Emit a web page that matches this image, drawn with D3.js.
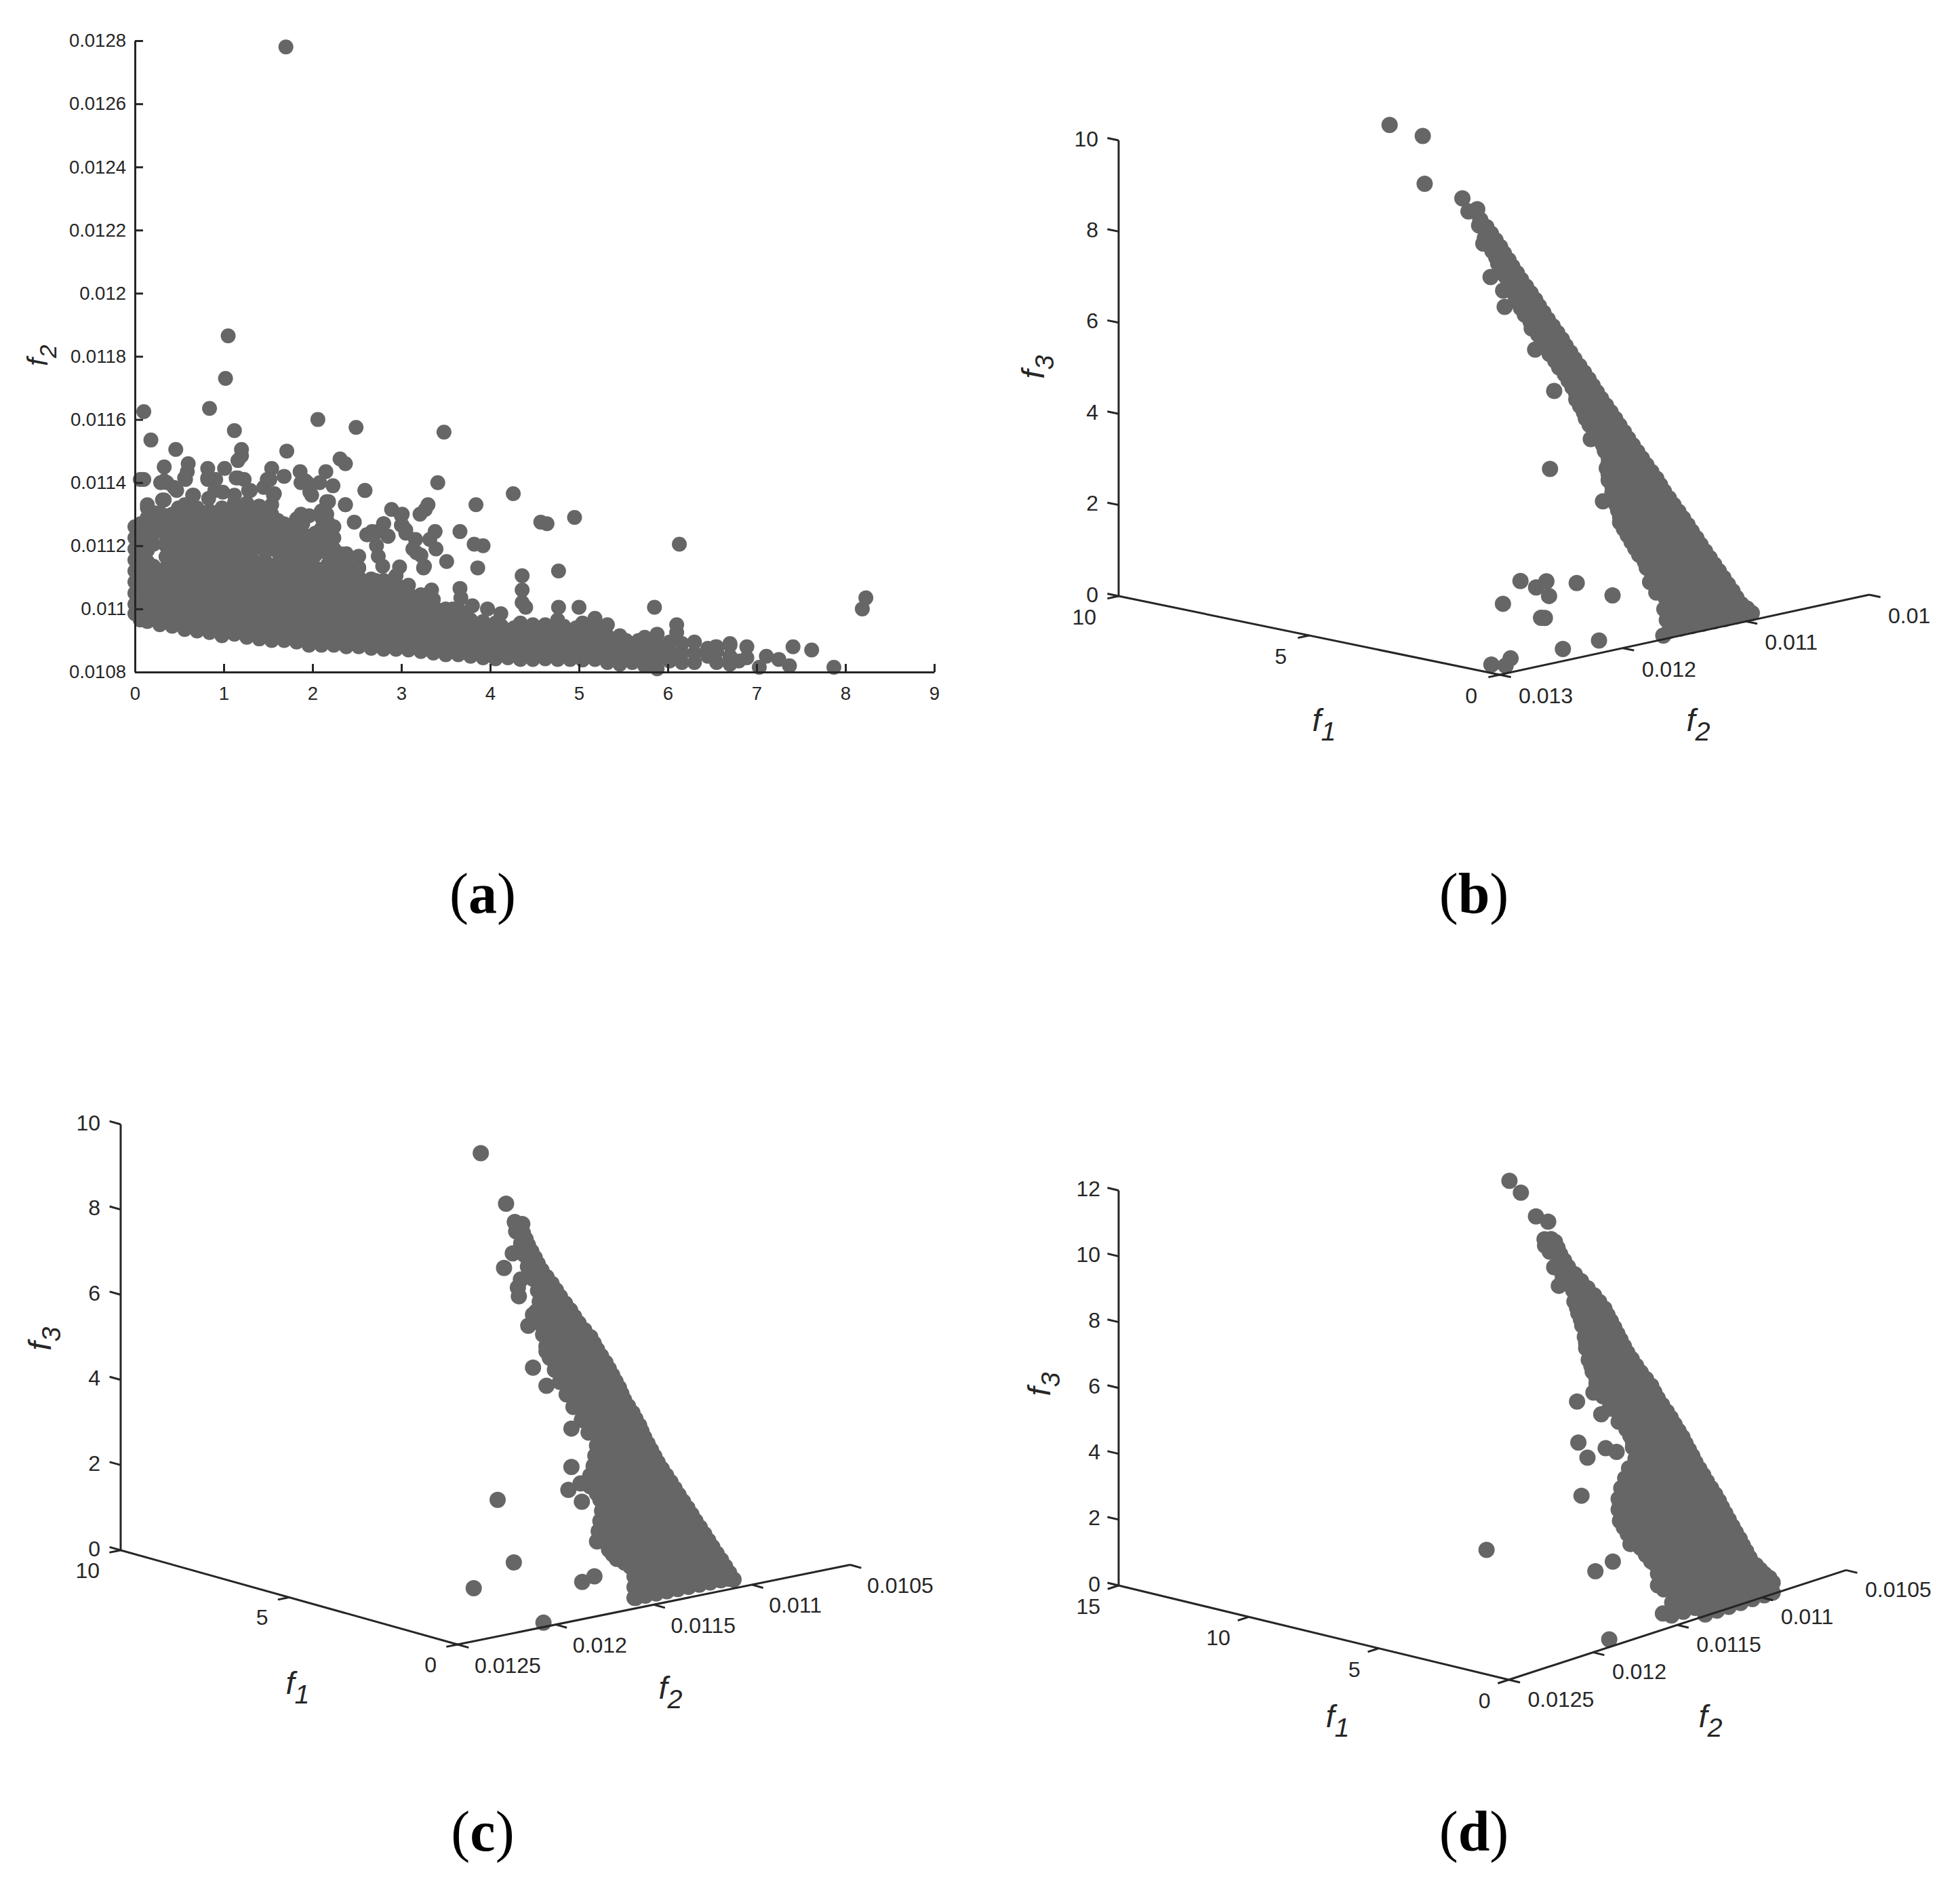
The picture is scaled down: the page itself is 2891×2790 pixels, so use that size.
<!DOCTYPE html>
<html><head><meta charset="utf-8">
<script src="https://cdn.jsdelivr.net/npm/d3@7"></script>
<style>
html,body{margin:0;padding:0;background:#fff}
svg{display:block}
text{font-family:"Liberation Sans",Arial,sans-serif;fill:#262626}
.cap{font-family:"Liberation Serif","Times New Roman",serif;fill:#000}
</style></head><body><div id="c"></div>
<script>
// ---- values. f2 values are written in units of 0.0001 ----
const aF1Ticks=[0,1,2,3,4,5,6,7,8,9];
const aF2Ticks=[108,110,112,114,116,118,120,122,124,126,128];
// panel (a): each row is [f1, f2, f2, ...]
const aColumns=[
[0.00,109.85,110.15,110.5,110.85,111.2,111.55,111.9,112.25,112.6],
[0.06,109.65,110,110.3,110.65,111,111.35,111.7,112.05,112.4,112.7],
[0.14,109.6,109.9,110.2,110.55,110.9,111.2,111.5,111.85,112.2,112.55,112.9,113.2],
[0.28,109.5,109.8,110.15,110.5,110.85,111.15,112.55,112.85,113.05],
[0.42,109.45,109.8,110.1,110.45,110.8,111.1,111.45,111.75,112.1,112.45,112.8,113],
[0.56,109.35,109.7,110.05,110.4,110.7,111.05,111.4,111.7,112,112.35,112.7,113.05,113.3],
[0.70,109.3,109.65,110,110.3,110.65,111,111.3,111.65,112,112.3,112.65,112.95,113.2],
[0.84,109.25,109.6,109.9,110.25,110.6,110.9,111.25,111.6,111.95,112.2,112.6,112.9,113.1],
[0.98,109.15,109.5,109.85,110.2,110.5,110.85,111.2,111.5,111.85,112.2,112.55,112.9,113.2],
[1.12,109.2,109.55,109.85,110.2,110.55,110.85,111.15,111.45,111.8,112.15,112.5,112.85,113.35,113.6],
[1.26,109.1,109.45,109.8,110.1,110.45,110.8,111.1,111.4,111.7,112.05,112.4,112.75,113.1,113.35],
[1.40,109.05,109.4,109.75,110.1,110.4,110.75,111.05,111.35,112.3,112.6,112.95,113.25],
[1.54,109,109.35,109.7,110,110.35,110.7,111,111.3,112,112.25,112.6,113,113.3],
[1.68,109,109.3,109.65,110,110.3,110.6,110.95,111.25,111.6,111.95,112.3,112.7],
[1.82,108.95,109.3,109.6,109.95,110.25,110.6,110.9,111.2,111.6,111.9,112.2,112.5,112.85],
[1.96,108.85,109.2,109.55,109.9,110.2,110.55,110.85,111.2,111.55,111.9,112.3,112.95],
[2.10,108.85,109.2,109.5,109.85,110.2,110.5,110.8,111.25,111.9,112.2,112.55,112.9,113.1],
[2.24,108.85,109.15,109.45,109.8,110.1,110.45,110.8,111.15,111.55,111.9,112.25,112.6],
[2.38,108.8,109.1,109.45,109.75,110.1,110.4,110.75,111.1,111.45,111.75],
[2.52,108.8,109.1,109.4,109.7,110.05,110.4,110.7,111,111.3,111.67],
[2.66,108.75,109.05,109.4,109.7,110,110.3,110.65,110.95],
[2.80,108.72,109.05,109.35,109.65,110,110.3,110.55,110.9],
[2.94,108.72,109,109.3,109.6,109.95,110.25,110.55,110.8,111.05],
[3.08,108.7,109,109.3,109.6,109.9,110.2,110.5,110.75],
[3.22,108.65,108.95,109.25,109.55,109.85,110.15,110.45],
[3.36,108.6,108.9,109.2,109.55,109.85,110.1,110.3],
[3.50,108.55,108.85,109.15,109.5,109.8,110],
[3.64,108.55,108.85,109.15,109.45,109.75,110],
[3.78,108.5,108.8,109.1,109.4,109.65],
[3.92,108.45,108.75,109.05,109.35,109.6],
[4.06,108.42,108.7,109,109.3,109.55],
[4.20,108.45,108.75,109,109.3],
[4.34,108.4,108.7,109,109.3,109.55],
[4.48,108.4,108.7,109,109.3,109.5],
[4.62,108.42,108.7,109,109.3,109.5],
[4.76,108.4,108.7,109,109.3,109.65],
[4.90,108.4,108.7,109,109.3],
[5.04,108.38,108.65,108.95,109.25,109.55],
[5.18,108.4,108.7,109,109.3,109.7],
[5.32,108.3,108.6,108.9,109.15,109.5],
[5.46,108.25,108.55,108.85,109.15],
[5.60,108.3,108.6,108.9],
[5.74,108.2,108.5,108.75,109.1],
[5.88,108.1,108.4,108.7,109.2],
[6.02,108.35,108.65,108.95],
[6.10,108.5,109.25,109.5],
[6.16,108.3,108.6,108.9],
[6.30,108.3,108.6,108.95],
[6.45,108.5,108.75],
[6.55,108.3,108.65,108.8],
[6.70,108.25,108.5,108.85],
[6.80,108.35],[6.89,108.45,108.8]
];
const aColumnsBetween=[
[.21,109.75,110.05,110.35,110.7,111,111.35,112.05,112.4,112.7,113.05],
[.35,109.65,109.95,110.3,110.65,111,111.3,111.65,112,112.3,112.65,112.95],
[.49,109.6,109.95,110.25,110.6,110.95,111.25,111.6,111.9,112.25,112.6,112.9,113.2],
[.63,109.5,109.85,110.2,110.55,110.85,111.2,111.55,111.85,112.15,112.5,112.85,113.15],
[.77,109.45,109.8,110.15,110.45,110.8,111.15,111.45,111.8,112.15,112.45,112.8,113.05],
[.91,109.4,109.75,110.05,110.4,110.75,111.05,111.4,111.75,112.05,112.4,112.75,113],
[1.05,109.35,109.7,110.05,110.35,110.7,111,111.35,111.65,112,112.35,112.7,113.05],
[1.19,109.3,109.65,110,110.35,110.7,111,111.3,111.6,111.95,112.3,112.65,113],
[1.33,109.25,109.6,109.95,110.25,110.6,110.95,111.25,111.55,111.9,112.2,112.55,112.9,113.2],
[1.47,109.2,109.55,109.9,110.25,110.55,110.9,111.2,111.5,111.8,112.1,112.45,112.8,113.1],
[1.61,109.15,109.5,109.85,110.15,110.5,110.85,111.15,111.45,111.8,112.1,112.45,112.8],
[1.75,109.15,109.45,109.8,110.15,110.45,110.75,111.1,111.4,111.75,112.1,112.45],
[1.89,109.1,109.45,109.75,110.1,110.4,110.75,111.05,111.4,111.75,112.05,112.35,112.7],
[2.03,109,109.35,109.7,110.05,110.35,110.7,111,111.3,111.7,112.05,112.4],
[2.17,109,109.35,109.65,110,110.35,110.65,111,111.4,111.75,112.05,112.4,112.75],
[2.31,108.95,109.3,109.6,109.95,110.25,110.6,110.95,111.3],
[2.45,108.95,109.25,109.55,109.9,110.25,110.55,110.9,111.25],
[2.59,108.9,109.2,109.55,109.85,110.2,110.55,110.85],
[2.73,108.9,109.2,109.5,109.85,110.15,110.45,110.75],
[2.87,108.85,109.15,109.45,109.8,110.1,110.4,110.7],
[3.01,108.85,109.15,109.45,109.75,110.05,110.35,110.65],
[3.15,108.85,109.15,109.45,109.75,110.05,110.35],
[3.29,108.8,109.1,109.4,109.7,110,110.3],
[3.43,108.75,109.05,109.35,109.7,109.95],
[3.57,108.7,109,109.3,109.6,109.9],
[3.71,108.7,109,109.3,109.6,109.85],
[3.85,108.65,108.95,109.25,109.5],
[3.99,108.6,108.9,109.2,109.45],
[4.13,108.6,108.85,109.15,109.45],
[4.27,108.6,108.85,109.15,109.4],
[4.41,108.55,108.85,109.15,109.4],
[4.55,108.55,108.85,109.15,109.4],
[4.69,108.55,108.85,109.15,109.4],
[4.83,108.55,108.85,109.15,109.45],
[4.97,108.55,108.85,109.15,109.4],
[5.11,108.55,108.85,109.1,109.4],
[5.25,108.5,108.8,109.1,109.35],
[5.39,108.4,108.7,109],
[5.53,108.4,108.7,109],
[5.67,108.45,108.75,109],
[5.81,108.3,108.6,108.9],
[5.95,108.5,108.8]
];
// panel (a): points that stand apart, as f1,f2 pairs
const aApart=[1.70,127.8, 1.05,118.65, 1.02,117.3, .10,116.25, .84,116.35, 2.06,116, 2.49,115.75, 3.48,115.6, 1.12,115.65, .18,115.35, .46,115.05, 1.20,115.05, 1.20,114.85, 1.16,114.7, 1.71,115, 2.31,114.75, 2.37,114.6, 1.54,114.45, .82,114.45, 1.01,114.45, .33,114.5, .6,114.6, .59,114.35, .57,114.1, 1.86,114.35, 2.15,114.35, .06,114.1, .1,114.1, 1.49,114.1, 1.68,114.2, .82,114.1, .91,114.1, 1.14,114.15, 1.23,114.1, .29,114, .36,114, 1.87,114, 1.92,114.05, 2.08,114, 2.23,113.9, 2.59,113.75, 3.41,114, 4.26,113.65, .47,113.75, .66,113.6, .99,113.7, 1.28,113.75, 1.45,113.85, 1.56,113.6, 1.97,113.7, .31,113.45, .14,113.3, .83,113.5, 2.37,113.3, 2.18,113.4, 3.84,113.3, 3.3,113.3, 3.27,113.15, 3.21,113, 2.89,113.15, 3.01,113, 4.95,112.9, 4.57,112.75, 4.64,112.7, 2.47,112.75, 2.8,112.7, 3.01,112.65, 3.05,112.5, 2.67,112.45, 2.61,112.35, 2.85,112.3, 3.16,112.2, 3.38,112.45, 3.32,112.2, 3.39,111.9, 3.66,112.45, 3.82,112.05, 3.92,112, 6.13,112.05, 3.13,111.9, 3.22,111.7, 3.51,111.5, 3.26,111.35, 3.86,111.3, 4.77,111.2, 4.36,111.05, 4.36,110.6, 4.36,110.2, 4.4,110.05, 4.77,110.05, 5,110.05, 5.85,110.05, 3.97,110, 4.12,109.85, 8.19,110, 8.23,110.35, 3.66,110.65, 3.34,110.6, 3.67,110.35, 3.8,110.1, 7.03,108.15, 7.11,108.5, 7.25,108.4, 7.37,108.2, 7.41,108.8, 7.62,108.7, 7.87,108.15, 6.7,108.9, 6.54,108.8, 2.72,112, 2.74,111.67, 2.79,111.35, 2.98,111.33, 3.17,111.78, 3.25,111.3, 2.52,111.3, 2.32,111.75, 2.38,111.1, 2.28,111.45, 2.62,112.35, 2.74,112.45, 2.8,112.7, 2.85,112.3, 3,112.95, 3,112.65, 3.05,112.4, 2.37,113.3, 2.59,113.75, 1.87,113, 2.08,113, 2.16,113.4, 2.16,113, 1.99,113.6, 1.94,114, .33,113.45, .65,113.6, .9,113.75, .44,113.85, .33,114.05, .56,114.15, .82,114.15, 1.16,114.15, 1.3,113.75, 1.52,114.1, 1.57,113.65, 1.4,113.25, 1.19,113.1, 3.58,110, 2.93,111, 2.71,110.9];

// panel (b): [f3, f1, f1, ...] at f2 = 0.0108
const bF2Main=108;
const bRows=[
[0,.65,.95,1.25,1.55,1.85,2.15,2.45,2.75,3.0],[.125,.77,1.1,1.4,1.7,2,2.3,2.6,2.9],
[.25,.9,1.2,1.5,1.8,2.1,2.4,2.7,3.1],[.375,1,1.3,1.6,1.9,2.2,2.5,2.8,3.1],
[.5,1.12,1.42,1.72,2.02,2.32,2.62,2.92,3.25],[.625,1.24,1.55,1.85,2.15,2.45,2.75,3.05,3.3],
[.75,1.36,1.66,1.96,2.26,2.56,2.86,3.16,3.45],[.875,1.48,1.8,2.1,2.4,2.7,3,3.3,3.55],
[1,1.6,1.9,2.2,2.5,2.8,3.1,3.4,3.65],[1.125,1.72,2,2.3,2.6,2.9,3.2,3.5,3.75],
[1.25,1.84,2.14,2.44,2.74,3.04,3.34,3.6,3.85],[1.375,1.95,2.25,2.55,2.85,3.15,3.45,3.75,3.95],
[1.5,2.07,2.37,2.67,2.97,3.27,3.57,3.95],[1.625,2.18,2.5,2.8,3.1,3.4,3.7,4],
[1.75,2.3,2.6,2.9,3.2,3.5,3.8,4.05],[1.875,2.42,2.7,3,3.3,3.6,3.9,4.1],
[2,2.55,2.85,3.15,3.45,3.75,4.15],[2.125,2.67,2.95,3.25,3.55,3.85,4.15],
[2.25,2.8,3.1,3.4,3.7,3.95,4.25],[2.375,2.9,3.2,3.5,3.8,4.1,4.25],
[2.5,3.0,3.3,3.6,3.9,4.3],[2.625,3.13,3.45,3.75,4.05,4.25],
[2.75,3.26,3.56,3.86,4.25],[2.875,3.38,3.65,3.95,4.25,4.35],
[3,3.5,3.8,4.1,4.4],[3.125,3.62,3.9,4.2,4.5],
[3.25,3.74,4.04,4.34,4.6],[3.375,3.85,4.15,4.45,4.75],
[3.5,3.97,4.27,4.57,4.85],[3.625,4.08,4.35,4.65,4.9],
[3.75,4.2,4.5,4.8,5.0],[3.875,4.32,4.6,4.9,5.1],
[4,4.45,4.75,5.1],[4.125,4.56,4.85,5.2],
[4.25,4.67,4.97,5.3],[4.375,4.78,5.1,5.4],
[4.5,4.9,5.2,5.55],[4.625,5.02,5.3,5.65],
[4.75,5.15,5.45,5.8],[4.875,5.26,5.55,5.9],
[5,5.38,5.68,6.0],[5.125,5.48,5.8,6.1],
[5.25,5.6,5.9,6.2],[5.375,5.72,6,6.3],
[5.5,5.85,6.15,6.45],[5.625,5.96,6.25,6.55],
[5.75,6.08,6.38,6.65],[5.875,6.18,6.45,6.7],
[6,6.3,6.55,6.8],[6.125,6.42,6.6,6.85],
[6.25,6.55,6.75,6.95],[6.375,6.66,6.85,7.05],
[6.5,6.78,7.15],[6.625,6.88,7.05,7.2],
[6.75,7.0,7.3],[6.875,7.1],
[7,7.22,7.5],[7.125,7.34],
[7.25,7.46,7.65],[7.38,7.62]
];
// panel (b): [f3, f2, f2, ...] at f1 = 0.3 (strip along the f2 axis)
const bF1Strip=.3;
const bStrip=[
[.05,115.3,114.4,113.5,112.6,111.7,110.8,109.9,109.2,108.6],
[.175,114.95,114.05,113.15,112.25,111.35,110.5,109.7,109],
[.3,115.5,114.6,113.7,112.8,111.9,111,110.2,109.5],
[.425,115.1,114.2,113.3,112.4,111.5,110.7,110],
[.55,115.7,114.8,113.9,113,112.1,111.2,110.6],
[.675,115.2,114.3,113.4,112.5,111.6,111],
[.8,115.6,114.7,113.8,112.9,112,111.4],
[.925,115.1,114.2,113.3,112.4,111.8],
[1.05,115.5,114.6,113.7,112.8,112]
];
// panel (b): points apart, as f1,f2,f3
const bApart=[10,108,9.05, 9.13,108,8.96, 9.08,108,7.92, 8.09,108,7.77, 7.93,108,7.51, 7.7,108,7.6, 7.46,108,7.21, 7.54,108,6.87, 5.79,108,2.23, 4.4,108,1.76, 5.68,108,3.96, 4.72,108,3.07, 7.35,108,6.17, 6.98,108,5.58, 7.02,108,5.93, 6.18,108,4.78, 6.27,108,5.23, 1.07,125,1.58, .66,125,1.51, .39,125,1.69, .32,125,1.38, 1.21,120,1.22, .27,120,1.11, .9,115,1, 1.53,125,1, .53,125,.865, .43,125,.88, .28,124,.165, .14,121.5,.23, .23,116,0, .54,129,.07, .49,128,0, .36,128,.18];

// panel (c): [f3, f1, f1, ...] at f2 = 0.011
const cF2Main=110;
const cRows=[
[0,.55,.88,1.2,1.55,1.85,2.2,2.5,2.85,3.2,3.5,3.85,4.2,4.6],[.125,.68,.95,1.3,1.65,1.95,2.3,2.65,2.95,3.3,3.65,3.95,4.35],
[.25,.8,1.1,1.45,1.8,2.1,2.45,2.8,3.1,3.45,3.8,4.1,4.55],[.375,.92,1.2,1.55,1.9,2.2,2.55,2.9,3.2,3.55,3.9,4.3],
[.5,1.05,1.35,1.7,2,2.35,2.7,3,3.35,3.7,4,4.5],[.625,1.18,1.45,1.8,2.1,2.45,2.8,3.1,3.45,3.8,4.2],
[.75,1.3,1.6,1.95,2.3,2.6,2.95,3.25,3.6,3.95,4.45],[.875,1.42,1.75,2.05,2.4,2.7,3.05,3.4,3.75,4.1,4.4],
[1,1.55,1.85,2.2,2.5,2.85,3.2,3.5,3.85,4.2,4.5],[1.125,1.68,2,2.3,2.65,3,3.3,3.65,4,4.3,4.6],
[1.25,1.8,2.1,2.45,2.8,3.1,3.45,3.8,4.1,4.45,4.8],[1.375,1.92,2.2,2.55,2.85,3.2,3.55,3.9,4.2,4.55],
[1.5,2.05,2.35,2.7,3,3.35,3.7,4.05,4.35,4.8],[1.625,2.18,2.45,2.8,3.15,3.5,3.8,4.15,4.5],
[1.75,2.3,2.6,2.95,3.3,3.6,3.95,4.3,4.7],[1.875,2.42,2.7,3.05,3.4,3.7,4.05,4.4],
[2,2.55,2.85,3.2,3.5,3.85,4.2,4.65],[2.125,2.68,2.95,3.3,3.65,4,4.35],
[2.25,2.8,3.1,3.45,3.8,4.15,4.6],[2.375,2.9,3.15,3.5,3.85,4.2,4.55],
[2.5,3,3.35,3.7,4,4.35,4.85],[2.625,3.1,3.35,3.7,4.05,4.4,4.75],
[2.75,3.2,3.55,3.9,4.2,4.55,5.05],[2.875,3.28,3.55,3.9,4.25,4.6,4.95],
[3,3.35,3.7,4.05,4.35,4.7,5.3],[3.125,3.46,3.75,4.1,4.45,4.8,5.15],
[3.25,3.55,3.9,4.25,4.55,4.9,5.5],[3.375,3.68,4,4.3,4.65,5,5.35],
[3.5,3.8,4.1,4.45,4.8,5.1,5.7],[3.625,3.88,4.2,4.55,4.9,5.25,5.55],
[3.75,3.95,4.3,4.65,5,5.35,5.85],[3.875,4.05,4.4,4.75,5.1,5.45,5.75],
[4,4.15,4.5,4.85,5.2,5.6,6],[4.125,4.25,4.6,4.95,5.3,5.65,5.9],
[4.25,4.35,4.7,5.05,5.4,5.75,6.1],[4.375,4.48,4.85,5.2,5.55,5.9],
[4.5,4.6,4.95,5.3,5.65,6.2],[4.625,4.7,5.05,5.4,5.75,6.1],
[4.75,4.8,5.15,5.5,5.85,6.3],[4.875,4.98,5.3,5.65,6],
[5,5.15,5.5,5.85,6.4],[5.125,5.28,5.6,5.95,6.2],
[5.25,5.4,5.75,6.3],[5.375,5.55,5.9,6.15],
[5.5,5.7,6,6.35],[5.625,5.82,6.15],
[5.75,5.95,6.5],[5.875,6.1],
[6,6.25,6.65],[6.125,6.36],
[6.25,6.45,6.75],[6.375,6.55],
[6.5,6.65,6.85],[6.625,6.72],
[6.75,6.8,7]
];
// panel (c): [f3, f2, f2, ...] at f1 = 0.4
const cF1Strip=.4;
const cStrip=[
[.1,115.3,114.75,114.2,113.65,113.1,112.55,112,111.45,110.9,110.5],
[.225,115,114.45,113.9,113.35,112.8,112.25,111.7,111.15,110.7],
[.35,115.3,114.75,114.2,113.65,113.1,112.55,112,111.45,110.9],
[.475,115,114.45,113.9,113.35,112.8,112.25,111.7,111.1],
[.6,115.3,114.75,114.2,113.65,113.1,112.55,112,111.6,111.2],
[.725,115.1,114.55,114,113.45,112.9,112.35,111.8,111.35],
[.85,115.5,114.9,114.35,113.8,113.25,112.7,112.15,111.6],
[.975,115.8,115.2,114.65,114.1,113.55,113,112.4,111.8],
[1.1,116.2,115.6,115,114.45,113.9,113.35,112.8,112],
[1.225,116.4,115.8,115.2,114.65,114.1,113.55,113,112.4],
[1.35,116.6,116,115.4,114.85,114.3,113.75,113.2,112.6]
];
const cApart=[8.05,110,8.35, 7.3,110,7.33, 7.04,110,6.96, 6.82,110,6.96, 7.1,110,6.21, 7.36,110,5.81, 6.86,110,5.65, 6.95,110,5.44, 6.92,110,5.24, 6.64,110,4.61, 6.5,110,4.9, 6.19,110,4.87, 6.5,110,3.66, 6.1,110,3.32, 6.1,110,4.13, 5.36,110,2.48, 5.36,110,1.58, 5.45,110,1.02, 5.09,110,1.25, 5.05,110,.83, 7.55,110,.32, 2.41,118,.74, 1.27,122,.76, .19,120.3,.03, .38,118,.73, .6,117,.72, .54,115,.04];

// panel (d): [f3, f1, f1, ...] at f2 = 0.0109
const dF2Main=109;
const dRows=[
[0,.5,.95,1.4,1.85,2.3,2.75,3.2,3.65,4.1,4.55,4.9],[.16,.62,1.1,1.55,2,2.45,2.9,3.35,3.8,4.25,4.7,5.1],
[.33,.75,1.2,1.65,2.1,2.55,3,3.45,3.9,4.35,4.8,5.3],[.5,.88,1.4,1.85,2.3,2.75,3.2,3.65,4.1,4.55,5,5.4],
[.66,1,1.45,1.9,2.35,2.8,3.25,3.7,4.15,4.6,5.05,5.5,5.8],[.83,1.12,1.6,2.05,2.5,2.95,3.4,3.85,4.3,4.75,5.2,5.6,5.95],
[1,1.25,1.7,2.15,2.6,3.05,3.5,3.95,4.4,4.85,5.3,5.7,6.1],[1.16,1.38,1.85,2.3,2.75,3.2,3.65,4.1,4.55,5,5.45,5.9],
[1.33,1.5,1.95,2.4,2.85,3.3,3.75,4.2,4.65,5.1,5.55,5.95,6.15],[1.5,1.65,2.15,2.6,3.05,3.5,3.95,4.4,4.85,5.3,5.75,6.1],
[1.66,1.78,2.2,2.65,3.1,3.55,4,4.45,4.9,5.35,5.8,6.15],[1.83,1.92,2.4,2.85,3.3,3.75,4.2,4.65,5.1,5.55,6],
[2,2.05,2.5,2.95,3.4,3.85,4.3,4.75,5.2,5.65,6.05],[2.16,2.18,2.65,3.1,3.55,4,4.45,4.9,5.35,5.8],
[2.33,2.3,2.75,3.2,3.65,4.1,4.55,5,5.45,5.9],[2.5,2.44,2.95,3.4,3.85,4.3,4.75,5.2,5.65],
[2.66,2.6,3.05,3.5,3.95,4.4,4.85,5.3,5.75],[2.83,2.76,3.2,3.65,4.1,4.55,5,5.45],
[3,2.9,3.35,3.8,4.25,4.7,5.15,5.5],[3.16,3.05,3.55,4,4.45,4.9,5.35],
[3.33,3.2,3.65,4.1,4.55,5,5.45,5.6],[3.5,3.32,3.8,4.25,4.7,5.15,5.6],
[3.66,3.45,3.9,4.35,4.8,5.25,5.7],[3.83,3.58,4.05,4.5,4.95,5.4,5.85],
[4,3.7,4.15,4.6,5.05,5.5,5.9,6.15],[4.16,3.85,4.3,4.75,5.2,5.65,6.1],
[4.33,4,4.45,4.9,5.35,5.8,6.2,6.5],[4.5,4.15,4.6,5.05,5.5,5.95,6.4],
[4.66,4.3,4.75,5.2,5.65,6.1,6.5,6.75],[4.83,4.48,4.95,5.4,5.85,6.3,6.75],
[5,4.65,5.1,5.55,6,6.45,7],[5.16,4.78,5.25,5.7,6.15,6.6,7],
[5.33,4.9,5.35,5.8,6.25,6.7,7.15],[5.5,5.1,5.55,6,6.45,6.9,7.2],
[5.66,5.3,5.75,6.2,6.65,7.05,7.3],[5.83,5.48,5.9,6.35,6.8,7.25],
[6,5.65,6.05,6.5,6.95,7.4],[6.16,5.82,6.25,6.7,7.1,7.4],
[6.33,5.95,6.35,6.8,7.45],[6.5,6.08,6.5,6.95,7.4],
[6.66,6.2,6.65,7.1,7.55],[6.83,6.32,6.75,7.2,7.6],
[7,6.45,6.85,7.25,7.7],[7.16,6.58,7,7.4,7.75],
[7.33,6.7,7.15,7.55,7.85],[7.5,6.9,7.3,7.7],
[7.66,7.1,7.5,7.9],[7.83,7.35,7.75,8.1],
[8,7.6,8,8.3],[8.16,7.84],
[8.33,8.1,8.5],[8.5,8.25],
[8.66,8.4,8.8],[8.83,8.5],
[9,8.6,9]
];
const dF1Strip=.1;
const dStrip=[
[0,113.2,112.5,111.8,111.1,110.4,109.7,109.2],
[.15,112.85,112.15,111.45,110.75,110.05,109.45],
[.3,115.2,114.5,113.8,113.1,112.4,111.7,111,110.3,109.6,109.2],
[.48,114.85,114.15,113.45,112.75,112.05,111.35,110.65,109.95,109.4],
[.65,115,114.3,113.6,112.9,112.2,111.5,110.8,110.1,109.7],
[.82,114.65,113.95,113.25,112.55,111.85,111.15,110.45,109.95],
[1,115,114.3,113.6,112.9,112.2,111.5,110.8,110.2],
[1.17,115.65,114.95,114.25,113.55,112.85,112.15,111.45,110.6],
[1.35,116,115.3,114.6,113.9,113.2,112.5,111.8,111.1,110.8],
[1.52,115.65,114.95,114.25,113.55,112.85,112.15,111.6],
[1.7,116,115.3,114.6,113.9,113.2,112.5,111.8,111.5],
[1.87,115.85,115.15,114.45,113.75,113.05,112.35],
[2.05,116.2,115.5,114.8,114.1,113.4,112.7,112.2]
];
const dApart=[10.35,109,10.52, 9.91,109,10.24, 9.33,109,9.63, 8.86,109,9.56, 8.98,109,8.81, 8.75,109,9.05, 8.45,109,7.69, 8.63,109,8.22, 7.75,109,4.31, 7.12,109,4.7, 6.65,109,4.79, 6.82,109,4.1, 7.7,109,3.07, 7.35,109,2.68, 6.65,109,3.1, 6.23,109,3.07, 7.58,109,1.48, 7.34,115,.88, 4.43,112,.58, 5.1,112,.16, .03,119,.22, 3.75,112,1.24, .56,115,.24, .2,115,.64];

const bF1Ticks=[0,5,10], bF2Ticks=[130,120,110,100], bF3Ticks=[0,2,4,6,8,10];
const cF1Ticks=[0,5,10], cF2Ticks=[125,120,115,110,105], cF3Ticks=[0,2,4,6,8,10];
const dF1Ticks=[0,5,10,15], dF2Ticks=[125,120,115,110,105], dF3Ticks=[0,2,4,6,8,10,12];

// ---- drawing ----
const W=2891,H=2790,INK="#262626",DOT="#666666";
const svg=d3.select("#c").append("svg").attr("width",W).attr("height",H).attr("viewBox",[0,0,W,H]);
svg.append("rect").attr("width",W).attr("height",H).attr("fill","#fff");
const fmt=v=>String(+(v/1e4).toFixed(4));

function axisName(g,x,y,sub,size,rot){
  const t=g.append("text").attr("transform",`translate(${x},${y}) rotate(${rot||0})`)
    .attr("text-anchor","middle").attr("font-style","italic").attr("font-size",size);
  t.append("tspan").text("f");
  t.append("tspan").attr("font-size",size*.84).attr("dy",size*.3).text(sub);
}
function caption(x,y,letter){
  const t=svg.append("text").attr("class","cap").attr("x",x).attr("y",y).attr("text-anchor","middle").attr("font-size",84);
  t.append("tspan").text("(");
  t.append("tspan").attr("font-weight","bold").text(letter);
  t.append("tspan").text(")");
}

// panel (a)
(function(){
  const x=d3.scaleLinear().domain([0,9]).range([199,1378]);
  const y=d3.scaleLinear().domain([108,128]).range([991,60]);
  const pts=[];
  aColumns.concat(aColumnsBetween).forEach(c=>c.slice(1).forEach(v=>pts.push([c[0],v])));
  for(let i=0;i<aApart.length;i+=2) pts.push([aApart[i],aApart[i+1]]);
  const g=svg.append("g");
  g.append("g").selectAll("circle").data(pts).join("circle")
    .attr("cx",d=>x(d[0])).attr("cy",d=>y(d[1])).attr("r",11).attr("fill",DOT);
  const ax=g.append("g").attr("transform","translate(0,991)")
    .call(d3.axisBottom(x).tickValues(aF1Ticks).tickSize(-12).tickSizeOuter(0).tickPadding(21).tickFormat(d3.format("d")));
  const ay=g.append("g").attr("transform","translate(199,0)")
    .call(d3.axisLeft(y).tickValues(aF2Ticks).tickSize(-12).tickSizeOuter(0).tickPadding(13).tickFormat(fmt));
  [ax,ay].forEach(a=>{
    a.selectAll("path,line").attr("stroke",INK).attr("stroke-width",3);
    a.selectAll("text").attr("font-size",27.5).attr("font-family","Liberation Sans").attr("fill",INK);
  });
  axisName(g,70,524,"2",42,-90);
})();

// panels (b), (c), (d): linear 3-D projection built from one scale per screen direction
function panel3D(o){
  const f1X=d3.scaleLinear().domain(o.f1Dom).range([0,o.f1End[0]-o.corner[0]]);
  const f1Y=d3.scaleLinear().domain(o.f1Dom).range([0,o.f1End[1]-o.corner[1]]);
  const f2X=d3.scaleLinear().domain(o.f2Dom).range([0,o.f2End[0]-o.corner[0]]);
  const f2Y=d3.scaleLinear().domain(o.f2Dom).range([0,o.f2End[1]-o.corner[1]]);
  const f3Y=d3.scaleLinear().domain(o.f3Dom).range([0,-o.f3Len]);
  const px=(a,b,c)=>o.corner[0]+f1X(a)+f2X(b);
  const py=(a,b,c)=>o.corner[1]+f1Y(a)+f2Y(b)+f3Y(c);
  const pts=[];
  o.rows.forEach(r=>r.slice(1).forEach(u=>pts.push([u,o.f2Main,r[0]])));
  o.strip.forEach(r=>r.slice(1).forEach(f=>pts.push([o.f1Strip,f,r[0]])));
  for(let i=0;i<o.apart.length;i+=3) pts.push([o.apart[i],o.apart[i+1],o.apart[i+2]]);
  const g=svg.append("g");
  g.append("g").selectAll("circle").data(pts).join("circle")
    .attr("cx",d=>px(...d)).attr("cy",d=>py(...d)).attr("r",12).attr("fill",DOT);

  const f1Far=o.f1Dom[1], f2Far=o.f2Dom[1], f2Near=o.f2Dom[0];
  const line=(x1,y1,x2,y2)=>g.append("line").attr("x1",x1).attr("y1",y1).attr("x2",x2).attr("y2",y2)
    .attr("stroke",INK).attr("stroke-width",3);
  const text=(x,y,s,anchor,size)=>g.append("text").attr("x",x).attr("y",y).attr("dy",".36em")
    .attr("text-anchor",anchor).attr("font-size",size||32).text(s);
  // axis lines
  line(px(f1Far,f2Near,0),py(f1Far,f2Near,0),px(0,f2Near,0),py(0,f2Near,0));
  line(px(0,f2Near,0),py(0,f2Near,0),px(0,f2Far,0),py(0,f2Far,0));
  line(px(f1Far,f2Near,0),py(f1Far,f2Near,0),px(f1Far,f2Near,o.f3Dom[1]),py(f1Far,f2Near,o.f3Dom[1]));
  // tick directions follow the other floor axis
  const L=17;
  const v1=[o.f1End[0]-o.corner[0],o.f1End[1]-o.corner[1]], n1=Math.hypot(...v1);
  const v2=[o.f2End[0]-o.corner[0],o.f2End[1]-o.corner[1]], n2=Math.hypot(...v2);
  o.f1Ticks.forEach(t=>{
    const X=px(t,f2Near,0),Y=py(t,f2Near,0);
    line(X,Y,X-v2[0]/n2*L,Y-v2[1]/n2*L);
    text(X+o.f1Lab[0],Y+o.f1Lab[1],String(t),"end");
  });
  o.f2Ticks.forEach(t=>{
    const X=px(0,t,0),Y=py(0,t,0);
    line(X,Y,X-v1[0]/n1*L,Y-v1[1]/n1*L);
    text(X+o.f2Lab[0],Y+o.f2Lab[1],fmt(t),"start");
  });
  o.f3Ticks.forEach(t=>{
    const X=px(f1Far,f2Near,t),Y=py(f1Far,f2Near,t);
    line(X,Y,X+v1[0]/n1*L,Y+v1[1]/n1*L);
    text(X+o.f3Lab,Y-3,String(t),"end");
  });
  axisName(g,o.n1[0],o.n1[1],"1",47);
  axisName(g,o.n2[0],o.n2[1],"2",47);
  axisName(g,o.n3[0],o.n3[1],"3",47,-90);
}

panel3D({corner:[2212,995],f1End:[1650,879],f2End:[2757,877],f3Len:672,
  f1Dom:[0,10],f2Dom:[130,100],f3Dom:[0,10],f1Ticks:bF1Ticks,f2Ticks:bF2Ticks,f3Ticks:bF3Ticks,
  rows:bRows,f2Main:bF2Main,strip:bStrip,f1Strip:bF1Strip,apart:bApart,
  f1Lab:[-33,30.6],f2Lab:[28,30.6],f3Lab:-30,n1:[1953,1078],n2:[2505,1078],n3:[1540,541]});
panel3D({corner:[675,2425],f1End:[178,2286],f2End:[1254,2307.5],f3Len:628,
  f1Dom:[0,10],f2Dom:[125,105],f3Dom:[0,10],f1Ticks:cF1Ticks,f2Ticks:cF2Ticks,f3Ticks:cF3Ticks,
  rows:cRows,f2Main:cF2Main,strip:cStrip,f1Strip:cF1Strip,apart:cApart,
  f1Lab:[-31,29],f2Lab:[25,30],f3Lab:-30,n1:[439,2498],n2:[989,2505],n3:[75,1974]});
panel3D({corner:[2225.5,2477],f1End:[1650,2338],f2End:[2723,2315.4],f3Len:582.5,
  f1Dom:[0,15],f2Dom:[125,105],f3Dom:[0,12],f1Ticks:dF1Ticks,f2Ticks:dF2Ticks,f3Ticks:dF3Ticks,
  rows:dRows,f2Main:dF2Main,strip:dStrip,f1Strip:dF1Strip,apart:dApart,
  f1Lab:[-27,30.5],f2Lab:[28,28],f3Lab:-27,n1:[1973,2547],n2:[2523,2547],n3:[1549,2041]});

caption(712,1346,"a");caption(2174,1346,"b");caption(712,2729,"c");caption(2174,2729,"d");
</script></body></html>
